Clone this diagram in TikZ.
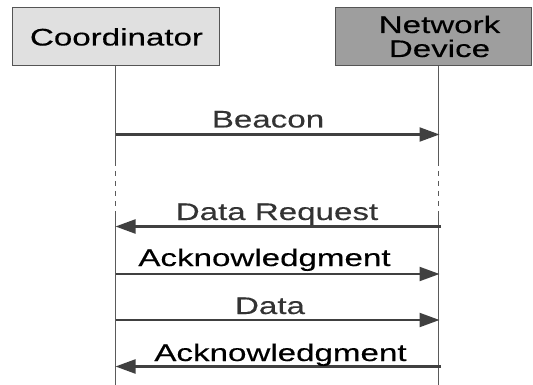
\documentclass[tikz,border=0pt]{standalone}
\usepackage{fontspec}
\setmainfont[FakeStretch=1.38,FakeBold=0.3]{Liberation Sans}
\usetikzlibrary{arrows.meta}
\definecolor{boxlight}{HTML}{E0E0E0}
\definecolor{boxdark}{HTML}{9E9E9E}
\definecolor{edgegrey}{HTML}{555555}
\definecolor{linegrey}{HTML}{5A5A5A}
\definecolor{msggrey}{HTML}{404040}
\definecolor{labelgrey}{HTML}{333333}
\begin{document}
\begin{tikzpicture}[x=1pt,y=-1pt,
  actor/.style={draw=edgegrey,line width=1pt,minimum height=58pt,inner sep=0pt,
    font=\fontsize{24}{24}\selectfont,text=black,align=center},
  lifeline/.style={draw=linegrey,line width=1.5pt},
  lifedash/.style={draw=linegrey,line width=1.5pt,dash pattern=on 5pt off 5pt},
  msg/.style={draw=msggrey,line width=2.2pt,-{Triangle[length=20pt,width=14pt]}},
  msglabel/.style={anchor=base,inner sep=0pt,font=\fontsize{24}{24}\selectfont,text=labelgrey}]
\useasboundingbox[fill=white] (0,0) rectangle (533,385);
% actors
\node[actor,fill=boxlight,minimum width=207pt] (coord) at (115.5,37) {};
\node[anchor=base,inner sep=0pt,font=\fontsize{24}{24}\selectfont] (coordtxt) at (116.5,45.5) {Coordinator};
\node[actor,fill=boxdark,minimum width=196pt] (dev) at (433,37) {};
\node[anchor=base,inner sep=0pt,font=\fontsize{24}{24}\selectfont] (devtxt1) at (439.5,33) {Network};
\node[anchor=base,inner sep=0pt,font=\fontsize{24}{24}\selectfont] (devtxt2) at (439.5,57) {Device};
% lifeline coordinates
\coordinate (cTop) at (115.5,66);
\coordinate (cD1) at (115.5,161);
\coordinate (cD2) at (115.5,212);
\coordinate (cBot) at (115.5,385);
\coordinate (dTop) at (438.5,66);
\coordinate (dD1) at (438.5,161);
\coordinate (dD2) at (438.5,212);
\coordinate (dBot) at (438.5,385);
\draw[lifeline] (cTop) -- (cD1);
\draw[lifedash] (cD1) -- (cD2);
\draw[lifeline] (cD2) -- (cBot);
\draw[lifeline] (dTop) -- (dD1);
\draw[lifedash] (dD1) -- (dD2);
\draw[lifeline] (dD2) -- (dBot);
% message endpoints
\coordinate (c1) at (115.5,134.5);
\coordinate (d1) at (439.5,134.5);
\coordinate (c2) at (115.5,226.5);
\coordinate (d2) at (441,226.5);
\coordinate (c3) at (115.5,274);
\coordinate (d3) at (439.5,274);
\coordinate (c4) at (115.5,320);
\coordinate (d4) at (439.5,320);
\coordinate (c5) at (115.5,366.5);
\coordinate (d5) at (441,366.5);
\draw[msg] (c1) -- (d1);
\draw[msg] (d2) -- (c2);
\draw[msg] (c3) -- (d3);
\draw[msg] (c4) -- (d4);
\draw[msg] (d5) -- (c5);
% labels
\node[msglabel] (l1) at (268,127.5) {Beacon};
\node[msglabel] (l2) at (277,220) {Data Request};
\node[msglabel,text=black] (l3) at (264.5,266) {Acknowledgment};
\node[msglabel] (l4) at (270,314) {Data};
\node[msglabel,text=black] (l5) at (280.5,361) {Acknowledgment};
\end{tikzpicture}
\end{document}
